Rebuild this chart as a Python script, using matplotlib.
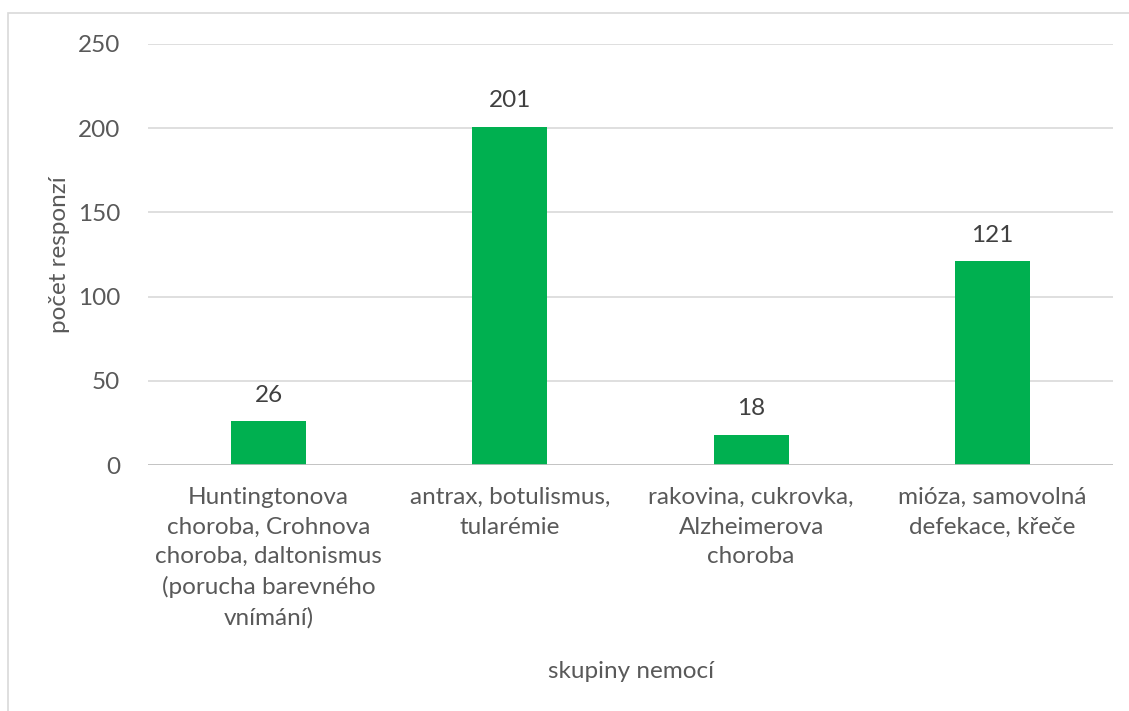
import matplotlib
matplotlib.use("Agg")
import matplotlib.pyplot as plt
from matplotlib.patches import Rectangle

plt.rcParams['font.family'] = ['Lato', 'DejaVu Sans']

categories = [
    "Huntingtonova\nchoroba, Crohnova\nchoroba, daltonismus\n(porucha barevného\nvnímání)",
    "antrax, botulismus,\ntularémie",
    "rakovina, cukrovka,\nAlzheimerova\nchoroba",
    "mióza, samovolná\ndefekace, křeče",
]
responses = [26, 201, 18, 121]
yticks = [0, 50, 100, 150, 200, 250]

text_grey = "#595959"
bar_green = "#00B050"
fs = 17.5

fig = plt.figure(figsize=(11.29, 7.11), dpi=100)
fig.patch.set_facecolor("white")

# chart-area frame (only top and left edges fall inside the canvas)
fig.add_artist(Rectangle((8 / 1129, -0.05), 1.2, (711 - 13) / 711 + 0.05,
                         transform=fig.transFigure, fill=False,
                         edgecolor="#D9D9D9", lw=1.2))

ax = fig.add_axes([148 / 1129, 246 / 711, (1113 - 148) / 1129, (465 - 44) / 711])
x = range(len(categories))
bars = ax.bar(x, responses, width=0.31, color=bar_green, zorder=3)

ax.set_xlim(-0.5, len(categories) - 0.5)
ax.set_ylim(0, 250)
ax.set_yticks(yticks)
ax.yaxis.grid(True, color="#D9D9D9", lw=1.2, zorder=0)
ax.axhline(0, color="#BFBFBF", lw=1.2, zorder=4)
for s in ax.spines.values():
    s.set_visible(False)

ax.tick_params(axis="y", length=0, pad=20, labelsize=fs, labelcolor=text_grey)
ax.tick_params(axis="x", length=0, pad=16, labelsize=fs, labelcolor=text_grey)
ax.set_xticks(list(x))
ax.set_xticklabels(categories, linespacing=1.5, va="top")

for b, v in zip(bars, responses):
    ax.annotate(str(v), (b.get_x() + b.get_width() / 2, v),
                xytext=(0, 11), textcoords="offset points",
                ha="center", va="bottom", fontsize=fs, color="#404040")

# axis titles placed in figure pixels
fig.text(60 / 1129, 1 - 255 / 711, "počet responzí", rotation=90,
         ha="center", va="center", fontsize=fs, color=text_grey)
fig.text(631 / 1129, 1 - 672 / 711, "skupiny nemocí", ha="center", va="center",
         fontsize=fs, color=text_grey)

fig.savefig("out.png", dpi=100)
